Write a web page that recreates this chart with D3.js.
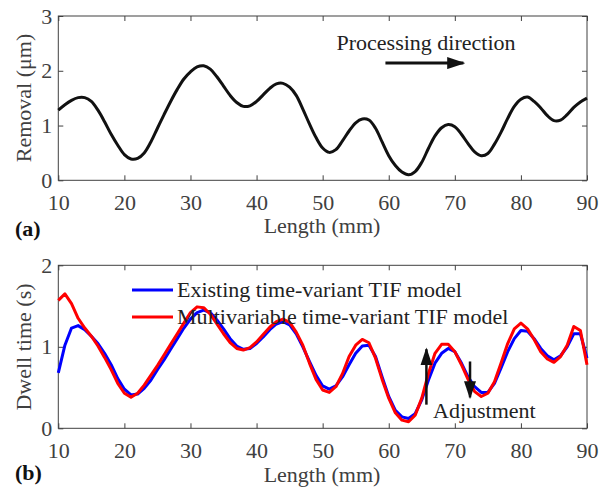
<!DOCTYPE html>
<html>
<head>
<meta charset="utf-8">
<script src="https://cdn.jsdelivr.net/npm/d3@7"></script>
<style>
  body { margin: 0; background: #fff; }
  svg { display: block; font-family: "Liberation Serif", "Times New Roman", serif; }
  .axis text { font-size: 22px; fill: #404040; font-family: "Liberation Serif", serif; }
  .axis path, .axis line { stroke: #404040; }
</style>
</head>
<body>
<div class="chart"></div>
<script>
// x positions (mm)
const lengthMm = d3.range(10, 91);
const xTicks = [10, 20, 30, 40, 50, 60, 70, 80, 90];
const removalTicks = [0, 1, 2, 3];
const dwellTicks = [0, 1, 2];

// (a) removal (um), one value per mm
const removal = [1.28, 1.38, 1.46, 1.51, 1.51, 1.44, 1.28, 1.07, 0.84, 0.64,
  0.47, 0.39, 0.40, 0.50, 0.70, 0.95, 1.20, 1.44, 1.66, 1.85,
  1.98, 2.07, 2.09, 2.03, 1.89, 1.72, 1.55, 1.42, 1.35, 1.36,
  1.44, 1.56, 1.68, 1.76, 1.77, 1.70, 1.55, 1.30, 1.03, 0.78,
  0.59, 0.51, 0.56, 0.72, 0.90, 1.05, 1.12, 1.10, 0.95, 0.70,
  0.45, 0.27, 0.15, 0.10, 0.16, 0.33, 0.58, 0.81, 0.96, 1.02,
  0.98, 0.84, 0.67, 0.52, 0.45, 0.49, 0.66, 0.88, 1.13, 1.35,
  1.48, 1.52, 1.44, 1.32, 1.18, 1.09, 1.10, 1.20, 1.33, 1.43, 1.50];

// (b) dwell time (s)
const dwellExisting = [0.68, 1.02, 1.23, 1.26, 1.21, 1.13, 1.04, 0.92, 0.78, 0.61,
  0.48, 0.41, 0.42, 0.49, 0.59, 0.72, 0.84, 0.97, 1.10, 1.23,
  1.34, 1.42, 1.45, 1.42, 1.33, 1.22, 1.10, 1.01, 0.97, 0.98,
  1.04, 1.12, 1.21, 1.28, 1.31, 1.27, 1.16, 1.00, 0.82, 0.65,
  0.52, 0.48, 0.52, 0.63, 0.78, 0.92, 1.01, 1.02, 0.88, 0.63,
  0.39, 0.22, 0.14, 0.12, 0.18, 0.35, 0.59, 0.80, 0.92, 0.98,
  0.94, 0.80, 0.63, 0.51, 0.44, 0.44, 0.55, 0.74, 0.94, 1.10,
  1.20, 1.19, 1.10, 0.98, 0.89, 0.84, 0.89, 1.00, 1.16, 1.16, 0.86];
const dwellMulti = [1.57, 1.65, 1.53, 1.35, 1.23, 1.13, 1.01, 0.87, 0.72, 0.55,
  0.43, 0.38, 0.43, 0.53, 0.65, 0.77, 0.90, 1.03, 1.16, 1.29,
  1.42, 1.49, 1.48, 1.40, 1.28, 1.16, 1.05, 0.98, 0.96, 0.99,
  1.06, 1.15, 1.24, 1.31, 1.34, 1.30, 1.18, 1.02, 0.80, 0.60,
  0.47, 0.44, 0.51, 0.67, 0.88, 1.02, 1.09, 1.05, 0.86, 0.60,
  0.37, 0.19, 0.10, 0.08, 0.16, 0.37, 0.67, 0.92, 1.03, 1.03,
  0.94, 0.78, 0.60, 0.45, 0.39, 0.43, 0.57, 0.80, 1.04, 1.22,
  1.29, 1.22, 1.09, 0.94, 0.85, 0.81, 0.88, 1.02, 1.25, 1.20, 0.78];

const legendNames = ['Existing time-variant TIF model', 'Multivariable time-variant TIF model'];
const legendColors = ['#0000ff', '#ff0000'];

const W = 599, H = 489;
const left = 58.3, right = 587;

const svg = d3.select('.chart').append('svg')
  .attr('width', W).attr('height', H);

svg.append('defs').append('marker')
  .attr('id', 'head')
  .attr('viewBox', '0 0 10 10')
  .attr('refX', 9).attr('refY', 5)
  .attr('markerUnits', 'userSpaceOnUse')
  .attr('markerWidth', 18).attr('markerHeight', 12)
  .attr('preserveAspectRatio', 'none')
  .attr('orient', 'auto')
  .append('path').attr('d', 'M0,0 L10,5 L0,10 Z').attr('fill', '#111');

function drawPanel(top, bottom, yMax, yTicks) {
  let x = d3.scaleLinear().domain([10, 90]).range([left, right]);
  let y = d3.scaleLinear().domain([0, yMax]).range([bottom, top]);

  // box
  svg.append('rect')
    .attr('x', left).attr('y', top)
    .attr('width', right - left).attr('height', bottom - top)
    .attr('fill', 'none').attr('stroke', '#404040').attr('stroke-width', 1);

  svg.append('g').attr('class', 'axis')
    .attr('transform', 'translate(0,' + bottom + ')')
    .call(d3.axisBottom(x).tickValues(xTicks).tickSize(-5).tickPadding(14).tickFormat(d3.format('d')))
    .call(g => g.select('.domain').remove());
  svg.append('g').attr('class', 'axis')
    .attr('transform', 'translate(0,' + top + ')')
    .call(d3.axisTop(x).tickValues(xTicks).tickSize(-5).tickFormat(''))
    .call(g => g.select('.domain').remove());
  svg.append('g').attr('class', 'axis')
    .attr('transform', 'translate(' + left + ',0)')
    .call(d3.axisLeft(y).tickValues(yTicks).tickSize(-5).tickPadding(6).tickFormat(d3.format('d')))
    .call(g => g.select('.domain').remove());
  svg.append('g').attr('class', 'axis')
    .attr('transform', 'translate(' + right + ',0)')
    .call(d3.axisRight(y).tickValues(yTicks).tickSize(-5).tickFormat(''))
    .call(g => g.select('.domain').remove());

  return { x, y };
}

function addText(x, y, str, opts) {
  opts = opts || {};
  let t = svg.append('text')
    .attr('x', x).attr('y', y)
    .attr('font-size', opts.size || 22)
    .attr('fill', opts.fill || '#404040')
    .attr('text-anchor', opts.anchor || 'start')
    .text(str);
  if (opts.bold) t.attr('font-weight', 'bold');
  if (opts.rotate) t.attr('transform', 'rotate(-90,' + x + ',' + y + ')');
  return t;
}

function arrow(x1, y1, x2, y2, w) {
  svg.append('line')
    .attr('x1', x1).attr('y1', y1).attr('x2', x2).attr('y2', y2)
    .attr('stroke', '#111').attr('stroke-width', w)
    .attr('marker-end', 'url(#head)');
}

// ---- (a) ----
let a = drawPanel(16, 180.3, 3, removalTicks);
svg.append('path')
  .datum(removal)
  .attr('fill', 'none')
  .attr('stroke', '#111')
  .attr('stroke-width', 3)
  .attr('d', d3.line()
    .x((d, i) => a.x(lengthMm[i]))
    .y(d => a.y(d))
    .curve(d3.curveCatmullRom));

addText(a.x(52.1), a.y(2.38), 'Processing direction', { fill: '#222' });
arrow(a.x(59.5), a.y(2.14), a.x(71.3), a.y(2.14), 3);

addText(322, 233, 'Length (mm)', { anchor: 'middle' });
addText(31, 98, 'Removal (\u03bcm)', { anchor: 'middle', rotate: true });
addText(15, 236, '(a)', { bold: true, fill: '#111' });

// ---- (b) ----
let b = drawPanel(265.3, 428.3, 2, dwellTicks);
[dwellExisting, dwellMulti].forEach(function (series, k) {
  svg.append('path')
    .datum(series)
    .attr('fill', 'none')
    .attr('stroke', legendColors[k])
    .attr('stroke-width', 3)
    .attr('stroke-linejoin', 'round')
    .attr('d', d3.line()
      .x((d, i) => b.x(lengthMm[i]))
      .y(d => b.y(d)));
});

// legend (no box)
legendNames.forEach(function (name, k) {
  let ly = 290 + k * 27;
  svg.append('line')
    .attr('x1', 132).attr('x2', 173).attr('y1', ly).attr('y2', ly)
    .attr('stroke', legendColors[k]).attr('stroke-width', 3);
  addText(177, ly + 7, name, { fill: '#222' });
});

arrow(b.x(65.7), b.y(0.29), b.x(65.7), b.y(0.97), 2.5);
arrow(b.x(72.3), b.y(0.82), b.x(72.3), b.y(0.38), 2.5);
addText(b.x(66.7), b.y(0.13), 'Adjustment', { fill: '#222' });

addText(322, 482, 'Length (mm)', { anchor: 'middle' });
addText(31, 347, 'Dwell time (s)', { anchor: 'middle', rotate: true });
addText(15, 480, '(b)', { bold: true, fill: '#111' });
</script>
</body>
</html>
